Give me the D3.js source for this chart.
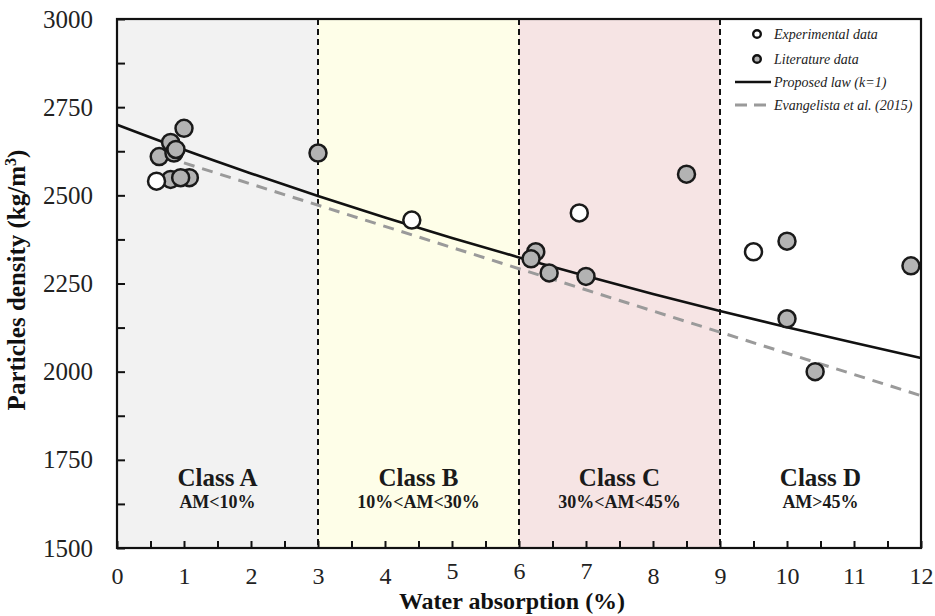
<!DOCTYPE html>
<html>
<head>
<meta charset="utf-8">
<script src="https://cdn.jsdelivr.net/npm/d3@7"></script>
<style>
  html, body { margin: 0; padding: 0; background: #fff; }
  svg text { font-family: "Liberation Serif", "Times New Roman", Times, serif !important; }
</style>
</head>
<body>
<svg id="chart" width="935" height="616"></svg>
<script>
// Experimental measurements (water absorption %, particle density kg/m3)
const expX = [0.59, 4.4, 6.9, 9.5];
const expY = [2540, 2430, 2450, 2340];

// Literature data
const litX = [0.63, 0.8, 0.85, 1.0, 0.88, 1.08, 0.8, 0.95, 3.0, 6.25, 6.18, 6.45, 7.0, 8.5, 10.0, 10.0, 10.42, 11.85];
const litY = [2610, 2650, 2620, 2690, 2630, 2550, 2545, 2550, 2620, 2340, 2320, 2280, 2270, 2560, 2370, 2150, 2000, 2300];

// Proposed law (k=1)
const lawX = [0, 1, 2, 3, 4, 5, 6, 7, 8, 9, 10, 11, 12];
const lawY = [2700, 2629, 2562, 2498, 2437, 2379, 2324, 2271, 2220, 2172, 2126, 2082, 2039];

// Evangelista et al. (2015)
const evaX = [1, 12];
const evaY = [2592, 1932];

// Absorption classes
const classNames = ["Class A", "Class B", "Class C", "Class D"];
const classRanges = ["AM<10%", "10%<AM<30%", "30%<AM<45%", "AM>45%"];
const classStart = [0, 3, 6, 9];
const classEnd = [3, 6, 9, 12];
const classFill = ["#f2f2f2", "#fefee8", "#f6e4e4", "#ffffff"];

const xTicks = [0, 1, 2, 3, 4, 5, 6, 7, 8, 9, 10, 11, 12];
const yTicks = [1500, 1750, 2000, 2250, 2500, 2750, 3000];

const svg = d3.select("#chart");
const L = 117, R = 921, T = 19, B = 548;
const x = d3.scaleLinear().domain([0, 12]).range([L, R]);
const y = d3.scaleLinear().domain([1500, 3000]).range([B, T]);

// class bands
svg.append("g").selectAll("rect").data(classStart).join("rect")
  .attr("x", (d) => x(d))
  .attr("y", T)
  .attr("width", (d, i) => x(classEnd[i]) - x(d))
  .attr("height", B - T)
  .attr("fill", (d, i) => classFill[i]);

// class boundaries
svg.append("g").selectAll("line").data([3, 6, 9]).join("line")
  .attr("x1", (d) => x(d)).attr("x2", (d) => x(d))
  .attr("y1", T).attr("y2", B)
  .attr("stroke", "#111").attr("stroke-width", 2)
  .attr("stroke-dasharray", "6,4");

// class labels
const cl = svg.append("g").attr("text-anchor", "middle").attr("font-weight", "bold").attr("fill", "#1a1a1a");
classNames.forEach((n, i) => {
  const cx = x((classStart[i] + classEnd[i]) / 2);
  cl.append("text").attr("x", cx).attr("y", 486).attr("font-size", 25).text(n);
  cl.append("text").attr("x", cx).attr("y", 508).attr("font-size", 18).text(classRanges[i]);
});

// minor ticks
const minorX = d3.axisBottom(x).tickValues(d3.range(0, 12.01, 0.5)).tickSize(-7).tickFormat("");
const minorY = d3.axisLeft(y).tickValues(d3.range(1500, 3001, 125)).tickSize(-8).tickFormat("");
svg.append("g").attr("transform", `translate(0,${B})`).call(minorX)
  .call((g) => g.select(".domain").remove())
  .call((g) => g.selectAll("line").attr("stroke", "#111").attr("stroke-width", 2));
svg.append("g").attr("transform", `translate(${L},0)`).call(minorY)
  .call((g) => g.select(".domain").remove())
  .call((g) => g.selectAll("line").attr("stroke", "#111").attr("stroke-width", 2));

// tick labels; the ones sitting above the axis title are lifted a little
const xAxis = d3.axisBottom(x).tickValues(xTicks).tickSize(0).tickPadding(31).tickFormat(d3.format("d"));
const yAxis = d3.axisLeft(y).tickValues(yTicks).tickSize(0).tickPadding(24).tickFormat(d3.format("d"));
svg.append("g").attr("transform", `translate(0,${B})`).call(xAxis)
  .call((g) => g.select(".domain").remove())
  .call((g) => g.selectAll("text").attr("font-size", 24).attr("fill", "#222")
    .attr("dy", (d) => (d >= 5 && d <= 7 ? "0.0em" : "0.2em")));
svg.append("g").attr("transform", `translate(${L},0)`).call(yAxis)
  .call((g) => g.select(".domain").remove())
  .call((g) => g.selectAll("text").attr("font-size", 25).attr("fill", "#222"));

// curves
const lawLine = d3.line().x((d, i) => x(lawX[i])).y((d) => y(d)).curve(d3.curveMonotoneX);
const evaLine = d3.line().x((d, i) => x(evaX[i])).y((d) => y(d));
svg.append("path").datum(evaY).attr("d", evaLine)
  .attr("fill", "none").attr("stroke", "#9a9a9a").attr("stroke-width", 3).attr("stroke-dasharray", "11,8");
svg.append("path").datum(lawY).attr("d", lawLine)
  .attr("fill", "none").attr("stroke", "#111").attr("stroke-width", 2.6);

// points
svg.append("g").selectAll("circle").data(litY).join("circle")
  .attr("cx", (d, i) => x(litX[i])).attr("cy", (d) => y(d)).attr("r", 8.5)
  .attr("fill", "#b3b3b3").attr("stroke", "#1a1a1a").attr("stroke-width", 2.5);
svg.append("g").selectAll("circle").data(expY).join("circle")
  .attr("cx", (d, i) => x(expX[i])).attr("cy", (d) => y(d)).attr("r", 8.5)
  .attr("fill", "#fff").attr("stroke", "#1a1a1a").attr("stroke-width", 2.5);

// frame
svg.append("rect").attr("x", L).attr("y", T).attr("width", R - L).attr("height", B - T)
  .attr("fill", "none").attr("stroke", "#111").attr("stroke-width", 2.2);

// legend
const lg = svg.append("g").attr("font-style", "italic").attr("font-size", 14).attr("fill", "#222");
const rows = [34, 59, 82, 105];
lg.append("circle").attr("cx", 757).attr("cy", rows[0]).attr("r", 3.8).attr("fill", "#fff").attr("stroke", "#111").attr("stroke-width", 2.4);
lg.append("circle").attr("cx", 757).attr("cy", rows[1]).attr("r", 3.8).attr("fill", "#b3b3b3").attr("stroke", "#111").attr("stroke-width", 2.4);
lg.append("line").attr("x1", 735).attr("x2", 771).attr("y1", rows[2]).attr("y2", rows[2]).attr("stroke", "#111").attr("stroke-width", 2.6);
lg.append("line").attr("x1", 735).attr("x2", 769).attr("y1", rows[3]).attr("y2", rows[3]).attr("stroke", "#9a9a9a").attr("stroke-width", 3).attr("stroke-dasharray", "12,7");
["Experimental data", "Literature data", "Proposed law (k=1)", "Evangelista et al. (2015)"].forEach((t, i) => {
  lg.append("text").attr("x", 774).attr("y", rows[i] + 4.5).text(t);
});

// axis titles
svg.append("text").attr("x", 512).attr("y", 609).attr("text-anchor", "middle")
  .attr("font-weight", "bold").attr("font-size", 24).attr("fill", "#111").text("Water absorption (%)");
const yt = svg.append("text").attr("transform", "translate(25,280) rotate(-90)").attr("text-anchor", "middle")
  .attr("font-weight", "bold").attr("font-size", 25).attr("fill", "#111");
yt.append("tspan").text("Particles density (kg/m");
yt.append("tspan").attr("dy", -9).attr("font-size", 16).text("3");
yt.append("tspan").attr("dy", 9).text(")");
</script>
</body>
</html>
